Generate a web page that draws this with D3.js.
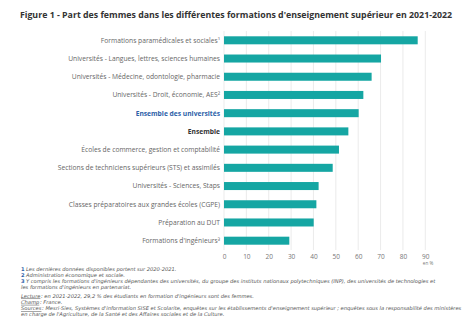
<!DOCTYPE html>
<html lang="fr">
<head>
<meta charset="UTF-8">
<title>Part des femmes</title>
<script src="https://d3js.org/d3.v7.min.js"></script>
<style>
  body { margin: 0; background: #fff; font-family: "Open Sans", sans-serif; }
  .note { font-family: "DejaVu Sans", sans-serif; font-style: italic; fill: #555; font-size: 5.15px; }
  .num { font-family: "DejaVu Sans", sans-serif; font-weight: 700; fill: #2d5fa8; font-size: 5.15px; }
</style>
</head>
<body>
<svg width="474" height="335"></svg>
<script>
// Data
const categories = [
  "Formations paramédicales et sociales¹",
  "Universités - Langues, lettres, sciences humaines",
  "Universités - Médecine, odontologie, pharmacie",
  "Universités - Droit, économie, AES²",
  "Ensemble des universités",
  "Ensemble",
  "Écoles de commerce, gestion et comptabilité",
  "Sections de techniciens supérieurs (STS) et assimilés",
  "Universités - Sciences, Staps",
  "Classes préparatoires aux grandes écoles (CGPE)",
  "Préparation au DUT",
  "Formations d'ingénieurs³"
];
const values = [86.6, 70.2, 66.0, 62.3, 60.2, 55.6, 51.4, 48.6, 42.3, 41.3, 40.1, 29.2];
const xTicks = [0, 10, 20, 30, 40, 50, 60, 70, 80, 90];
const footnotes = [
  ["1", "Les dernières données disponibles portent sur 2020-2021."],
  ["2", "Administration économique et sociale."],
  ["3", "Y compris les formations d'ingénieurs dépendantes des universités, du groupe des instituts nationaux polytechniques (INP), des universités de technologies et"],
  ["", "les formations d'ingénieurs en partenariat."]
];
const sources = [
  ["Lecture", " : en 2021-2022, 29,2 % des étudiants en formation d'ingénieurs sont des femmes."],
  ["Champ", " : France."],
  ["Sources", " : Mesri-Sies, Systèmes d'information SISE et Scolarite, enquêtes sur les établissements d'enseignement supérieur ; enquêtes sous la responsabilité des ministères"],
  ["", "en charge de l'Agriculture, de la Santé et des Affaires sociales et de la Culture."]
];

const svg = d3.select("svg");
const x = d3.scaleLinear().domain([0, 90]).range([224, 425.3]);
const y = d3.scaleBand().domain(categories).range([31.2, 249.8]).paddingInner(0.56).paddingOuter(0.28);

// Title
svg.append("text")
  .attr("x", 236).attr("y", 18)
  .attr("text-anchor", "middle")
  .attr("font-size", 8.8).attr("font-weight", 700).attr("fill", "#333")
  .text("Figure 1 - Part des femmes dans les différentes formations d'enseignement supérieur en 2021-2022");

// Gridlines
svg.append("g").selectAll("line").data(xTicks).join("line")
  .attr("x1", d => x(d)).attr("x2", d => x(d))
  .attr("y1", 31).attr("y2", 250)
  .attr("stroke", "#e6e6e6").attr("stroke-width", 0.8);

// Bars
svg.append("g").selectAll("rect").data(values).join("rect")
  .attr("x", x(0))
  .attr("y", (d, i) => y(categories[i]))
  .attr("width", d => x(d) - x(0))
  .attr("height", y.bandwidth())
  .attr("fill", "#15a6a3");

// Category labels
svg.append("g").selectAll("text").data(categories).join("text")
  .attr("x", 220)
  .attr("y", d => y(d) + y.bandwidth() / 2)
  .attr("dy", "0.35em")
  .attr("text-anchor", "end")
  .attr("font-size", 6.7)
  .attr("font-weight", d => (d === "Ensemble" || d === "Ensemble des universités") ? 700 : 400)
  .attr("fill", d => d === "Ensemble des universités" ? "#2d5fa8" : d === "Ensemble" ? "#333" : "#666")
  .text(d => d);

// X axis
const xAxis = svg.append("g")
  .attr("transform", "translate(0,250)")
  .call(d3.axisBottom(x).tickValues(xTicks).tickSize(0).tickPadding(4));
xAxis.select(".domain").remove();
xAxis.selectAll("text").attr("font-family", "Open Sans").attr("font-size", 6.5).attr("fill", "#777");

svg.append("text")
  .attr("x", 428).attr("y", 265).attr("text-anchor", "middle")
  .attr("font-size", 4.6).attr("fill", "#777").text("en %");

// Notes
const ng = svg.append("g");
const lineH = 6.3;
footnotes.forEach((d, i) => {
  const yy = 270.5 + i * lineH;
  if (d[0]) ng.append("text").attr("class", "num").attr("x", 21).attr("y", yy).text(d[0]);
  ng.append("text").attr("class", "note").attr("x", d[0] ? 26 : 21).attr("y", yy).text(d[1]);
});

sources.forEach((d, i) => {
  const yy = 297.5 + i * lineH;
  let xx = 21;
  if (d[0]) {
    const k = ng.append("text").attr("class", "note").attr("x", xx).attr("y", yy)
      .attr("text-decoration", "underline").text(d[0]);
    xx += k.node().getComputedTextLength() + 0.6;
  }
  ng.append("text").attr("class", "note").attr("x", xx).attr("y", yy).text(d[1].trimStart());
});
</script>
</body>
</html>
